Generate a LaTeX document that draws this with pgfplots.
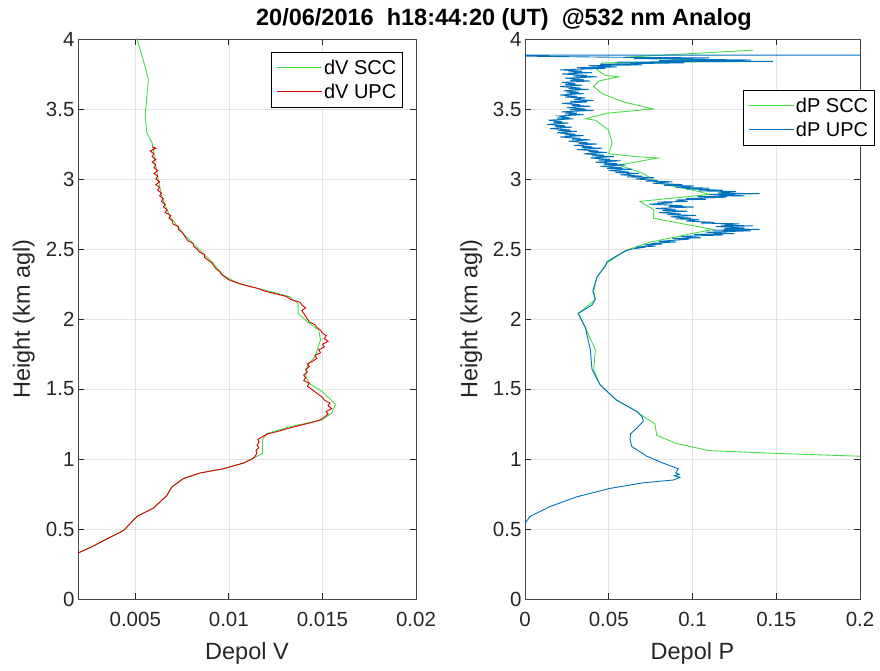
\documentclass[border=0pt]{standalone}
\usepackage{fontspec}
\setmainfont{Liberation Sans}
\usepackage{pgfplots}
\pgfplotsset{compat=1.18}
\definecolor{mgreen}{RGB}{70,220,70}
\definecolor{mred}{RGB}{215,0,0}
\definecolor{mblue}{RGB}{0,114,189}
\definecolor{axgray}{RGB}{38,38,38}
\pgfplotsset{mstyle/.style={
  scale only axis, height=560pt, ymin=0, ymax=4,
  ytick={0,0.5,...,4}, grid=major,
  grid style={gray!22, line width=0.6pt},
  axis line style={axgray!85, line width=0.8pt},
  tick style={axgray, line width=0.8pt},
  major tick length=6pt, tick align=inside,
  tick label style={font=\fontsize{20.5}{23}\selectfont, text=axgray},
  xticklabel style={yshift=-10pt},
  /pgf/number format/assume math mode=true,
  /pgf/number format/fixed, /pgf/number format/precision=3,
  scaled ticks=false,
  label style={font=\fontsize{23.5}{26}\selectfont, text=axgray},
  ylabel={Height (km agl)},
  ylabel style={at={(axis description cs:-0.16,0.5)}, anchor=center},
  xlabel style={at={(axis description cs:0.5,-0.0964)}, anchor=center},
  legend cell align=left,
  legend style={draw=black, line width=0.8pt, inner xsep=5pt, inner ysep=6pt, row sep=5pt,
    nodes={font=\fontsize{20}{23}\selectfont, inner sep=1.5pt}},
  legend image code/.code={\draw[#1, line width=0.9pt] (0pt,0pt) -- (42pt,0pt); \path (0pt,0pt) -- (45pt,0pt);},
  every axis plot/.append style={line width=0.9pt},
  clip=true
}}
\begin{document}
\begin{tikzpicture}
\path[use as bounding box] (0,0) rectangle (880pt,670pt);
\node[font=\bfseries\fontsize{23.5}{26}\selectfont, text=black] at (504pt,651pt) {20/06/2016\ \ h18:44:20 (UT)\ \ @532 nm Analog};
\begin{axis}[mstyle, at={(78pt,71pt)}, anchor=south west, width=338pt,
  xmin=0.00194, xmax=0.02, xtick={0.005,0.01,0.015,0.02},
  xlabel={Depol V},
  legend style={at={(0.962,0.977)}, anchor=north east}]
\addplot[color=mgreen] coordinates {
(0.0018,0.32) (0.00264,0.37) (0.00349,0.43) (0.00438,0.49) (0.00509,0.59) (0.00598,0.65)
(0.00669,0.74) (0.00695,0.80) (0.00757,0.86) (0.00846,0.90) (0.0097,0.93) (0.01076,0.97)
(0.0113,1.005) (0.0118,1.04) (0.0118,1.14) (0.0120,1.18) (0.01324,1.23) (0.0150,1.28)
(0.0155,1.33) (0.0157,1.39) (0.0150,1.48) (0.0143,1.54) (0.0141,1.59) (0.0142,1.67)
(0.0146,1.73) (0.0149,1.85) (0.0148,1.92) (0.0142,1.98) (0.0137,2.04) (0.0137,2.11)
(0.01324,2.16) (0.01182,2.21) (0.01059,2.25) (0.0097,2.31) (0.00916,2.40) (0.00846,2.49)
(0.00757,2.61) (0.00686,2.73) (0.00642,2.87) (0.00624,2.99) (0.00606,3.11) (0.00595,3.23)
(0.00589,3.26) (0.00562,3.33) (0.00553,3.45) (0.00562,3.59) (0.0057,3.71) (0.00553,3.80)
(0.00527,3.92) (0.00509,4.0) (0.005,4.05)
};
\addlegendentry{dV SCC}
\addplot[color=mred] coordinates {
(0.0018,0.32) (0.00264,0.37) (0.00349,0.43) (0.00438,0.49) (0.00509,0.59) (0.00598,0.65)
(0.00669,0.74) (0.00695,0.80) (0.00757,0.86) (0.00846,0.90) (0.0097,0.93) (0.01076,0.97)
(0.01125,1.00) (0.0114,1.02) (0.0115,1.04) (0.01145,1.06) (0.0116,1.08) (0.0115,1.10)
(0.01162,1.12) (0.01155,1.14) (0.0118,1.16) (0.0121,1.18) (0.0127,1.20) (0.0132,1.22)
(0.0138,1.24) (0.0144,1.26) (0.0149,1.28) (0.0151,1.30) (0.0153,1.32) (0.0152,1.34)
(0.0155,1.36) (0.0153,1.38) (0.0154,1.40) (0.0151,1.42) (0.0150,1.44) (0.0148,1.46)
(0.0146,1.48) (0.0144,1.50) (0.0142,1.52) (0.0143,1.54) (0.0140,1.56) (0.0141,1.58)
(0.0140,1.60) (0.0142,1.62) (0.0141,1.64) (0.0143,1.66) (0.0142,1.68) (0.0145,1.70)
(0.0147,1.72) (0.0146,1.74) (0.0149,1.76) (0.0148,1.78) (0.0151,1.80) (0.0150,1.82)
(0.0153,1.84) (0.0151,1.86) (0.0152,1.88) (0.0150,1.90) (0.0149,1.92) (0.0147,1.94)
(0.0146,1.96) (0.0143,1.98) (0.0142,2.00) (0.0141,2.02) (0.0140,2.04) (0.0139,2.06)
(0.0141,2.08) (0.0139,2.10) (0.0138,2.12) (0.0133,2.14) (0.0131,2.16) (0.0125,2.18)
(0.0119,2.20) (0.0115,2.22) (0.0109,2.24) (0.0104,2.26) (0.0100,2.28) (0.0098,2.30)
(0.0096,2.32) (0.0095,2.34) (0.0093,2.36) (0.0092,2.38) (0.0091,2.40) (0.0089,2.42)
(0.0087,2.44) (0.0087,2.46) (0.0084,2.48) (0.0083,2.50) (0.0081,2.52) (0.0081,2.54)
(0.0078,2.56) (0.0077,2.58) (0.0076,2.60) (0.0075,2.62) (0.0073,2.64) (0.0073,2.66)
(0.0070,2.68) (0.0070,2.70) (0.0068,2.72) (0.0069,2.74) (0.0066,2.76) (0.0067,2.78)
(0.0065,2.80) (0.0066,2.82) (0.0064,2.84) (0.0065,2.86) (0.0063,2.88) (0.0064,2.90)
(0.0062,2.92) (0.0063,2.94) (0.0061,2.96) (0.0063,2.98) (0.0061,3.00) (0.0062,3.02)
(0.0060,3.04) (0.0062,3.06) (0.0060,3.08) (0.0061,3.10) (0.0059,3.12) (0.0061,3.14)
(0.0059,3.16) (0.0060,3.18) (0.0058,3.20) (0.0061,3.22) (0.0059,3.23)
};
\addlegendentry{dV UPC}
\end{axis}
\begin{axis}[mstyle, at={(525pt,71pt)}, anchor=south west, width=335pt,
  xmin=0, xmax=0.2, xtick={0,0.05,0.1,0.15,0.2},
  xlabel={Depol P},
  legend style={at={(1.045,0.909)}, anchor=north east}]
\addplot[color=mgreen] coordinates {
(0.30,0.99) (0.2,1.02) (0.150,1.04) (0.110,1.06) (0.0906,1.11) (0.0786,1.17) (0.0776,1.25)
(0.0700,1.31) (0.0667,1.34) (0.0547,1.42) (0.0448,1.53) (0.0410,1.64) (0.0420,1.78)
(0.0360,1.94) (0.0318,2.04) (0.0420,2.14) (0.0410,2.20) (0.0430,2.30) (0.0490,2.40)
(0.0600,2.49) (0.0750,2.55) (0.112,2.64) (0.0766,2.72) (0.077,2.78) (0.0686,2.84)
(0.110,2.89) (0.104,2.91) (0.080,2.97) (0.0704,3.04) (0.056,3.10) (0.0793,3.15)
(0.066,3.16) (0.050,3.18) (0.052,3.26) (0.0498,3.35) (0.042,3.42) (0.036,3.43)
(0.049,3.47) (0.0765,3.50) (0.059,3.55) (0.046,3.61) (0.041,3.66) (0.044,3.70)
(0.056,3.73) (0.048,3.74) (0.043,3.78) (0.046,3.83) (0.126,3.84) (0.060,3.87) (0.136,3.92)
};
\addlegendentry{dP SCC}
\addplot[color=mblue] coordinates {
(-0.005,0.50) (0.000,0.54) (0.003,0.59) (0.0149,0.66) (0.0309,0.73) (0.0507,0.79)
(0.0706,0.83) (0.0886,0.85) (0.0925,0.87) (0.0890,0.88) (0.0920,0.89) (0.0900,0.90)
(0.0915,0.93) (0.0826,0.97) (0.0727,1.02) (0.0637,1.09) (0.0627,1.14) (0.0630,1.18)
(0.0667,1.22) (0.0706,1.27) (0.0700,1.30) (0.0667,1.34) (0.0547,1.42) (0.0448,1.53)
(0.0400,1.64) (0.0390,1.78) (0.0360,1.94) (0.0318,2.04) (0.0400,2.10) (0.0420,2.14)
(0.0405,2.20) (0.0430,2.30) (0.0480,2.38) (0.0490,2.41) (0.0560,2.46) (0.0610,2.49)
(0.064,2.50) (0.070,2.51) (0.066,2.515) (0.078,2.52) (0.071,2.53) (0.082,2.535)
(0.075,2.54) (0.090,2.55) (0.080,2.555) (0.086,2.56) (0.098,2.57) (0.088,2.575)
(0.105,2.58) (0.093,2.59) (0.118,2.60) (0.101,2.605) (0.125,2.61) (0.108,2.62)
(0.122,2.625) (0.135,2.63) (0.112,2.635) (0.140,2.64) (0.119,2.645) (0.131,2.65)
(0.114,2.66) (0.136,2.665) (0.117,2.67) (0.128,2.68) (0.105,2.685) (0.113,2.69)
(0.096,2.70) (0.104,2.71) (0.090,2.715) (0.099,2.72) (0.087,2.73) (0.102,2.74)
(0.085,2.745) (0.093,2.75) (0.080,2.76) (0.097,2.77) (0.082,2.775) (0.090,2.78)
(0.078,2.79) (0.101,2.80) (0.086,2.805) (0.094,2.81) (0.074,2.82) (0.088,2.83)
(0.079,2.835) (0.097,2.84) (0.090,2.85) (0.108,2.855) (0.096,2.86) (0.120,2.87)
(0.103,2.875) (0.131,2.88) (0.110,2.89) (0.140,2.895) (0.115,2.90) (0.126,2.91)
(0.104,2.915) (0.118,2.92) (0.096,2.93) (0.110,2.935) (0.090,2.94) (0.101,2.95)
(0.083,2.955) (0.094,2.96) (0.076,2.97) (0.088,2.98) (0.072,2.985) (0.079,2.99)
(0.066,3.00) (0.077,3.01) (0.061,3.015) (0.070,3.02) (0.057,3.03) (0.068,3.04)
(0.054,3.045) (0.062,3.05) (0.050,3.06) (0.064,3.07) (0.049,3.075) (0.058,3.08)
(0.045,3.09) (0.060,3.10) (0.047,3.105) (0.055,3.11) (0.042,3.12) (0.057,3.13)
(0.044,3.135) (0.051,3.14) (0.039,3.15) (0.053,3.16) (0.040,3.165) (0.047,3.17)
(0.035,3.18) (0.049,3.19) (0.038,3.195) (0.044,3.20) (0.031,3.21) (0.046,3.22)
(0.034,3.225) (0.040,3.23) (0.029,3.24) (0.043,3.25) (0.032,3.255) (0.037,3.26)
(0.026,3.27) (0.039,3.28) (0.028,3.285) (0.033,3.29) (0.021,3.30) (0.035,3.31)
(0.024,3.315) (0.030,3.32) (0.019,3.33) (0.031,3.34) (0.020,3.345) (0.027,3.35)
(0.015,3.36) (0.028,3.37) (0.018,3.375) (0.024,3.38) (0.013,3.39) (0.026,3.40)
(0.017,3.405) (0.022,3.41) (0.014,3.42) (0.029,3.43) (0.019,3.435) (0.025,3.44)
(0.020,3.45) (0.035,3.46) (0.024,3.465) (0.031,3.47) (0.022,3.48) (0.041,3.49)
(0.027,3.495) (0.036,3.50) (0.025,3.51) (0.039,3.52) (0.028,3.525) (0.033,3.53)
(0.022,3.54) (0.037,3.55) (0.027,3.555) (0.041,3.56) (0.029,3.57) (0.036,3.58)
(0.024,3.585) (0.031,3.59) (0.021,3.60) (0.035,3.61) (0.025,3.615) (0.032,3.62)
(0.023,3.63) (0.038,3.64) (0.026,3.645) (0.033,3.65) (0.021,3.66) (0.034,3.67)
(0.024,3.675) (0.030,3.68) (0.022,3.69) (0.039,3.70) (0.027,3.705) (0.035,3.71)
(0.024,3.72) (0.043,3.73) (0.029,3.735) (0.037,3.74) (0.022,3.75) (0.040,3.76)
(0.026,3.765) (0.034,3.77) (0.021,3.78) (0.048,3.79) (0.031,3.795) (0.055,3.80)
(0.038,3.81) (0.070,3.815) (0.045,3.82) (0.095,3.83) (0.055,3.835) (0.148,3.84)
(0.080,3.845) (0.135,3.85) (0.065,3.86) (0.110,3.865) (0.050,3.87)
(-0.05,3.885) (0.30,3.885)
};
\addlegendentry{dP UPC}
\end{axis}
\end{tikzpicture}
\end{document}
